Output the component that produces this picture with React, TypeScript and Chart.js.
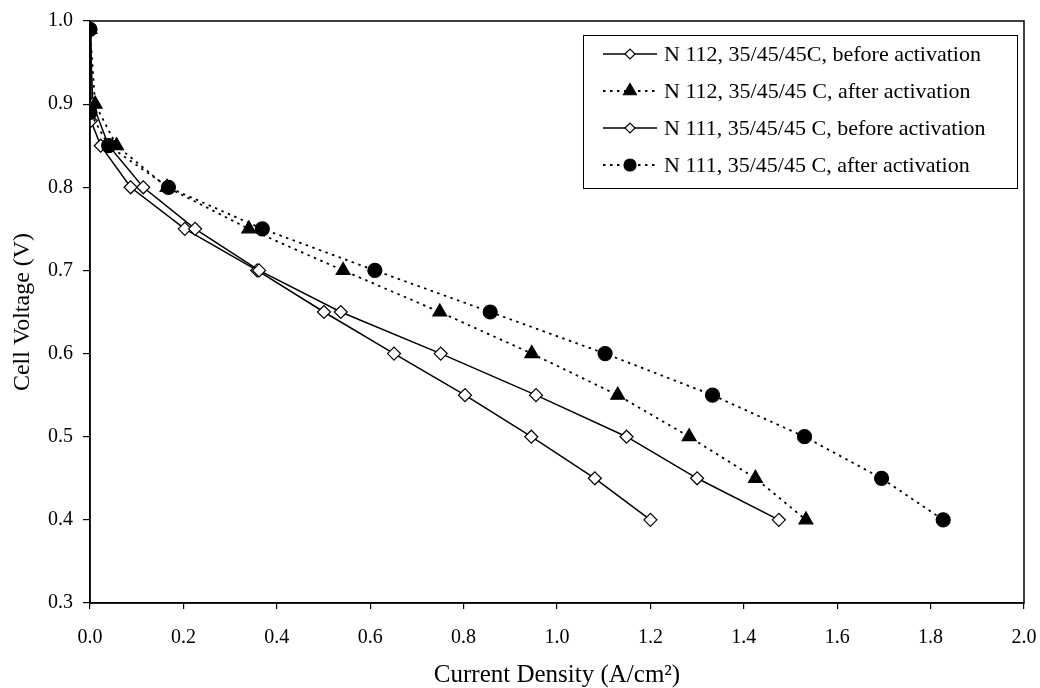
import React, { useEffect, useRef } from "react";
import { Chart, registerables } from "chart.js";

Chart.register(...registerables);

const seriesLabels = [
  "N 112, 35/45/45C, before activation",
  "N 112, 35/45/45 C, after activation",
  "N 111, 35/45/45 C, before activation",
  "N 111, 35/45/45 C, after activation",
];

const n112BeforeX = [0, 0.002, 0.023, 0.087, 0.203, 0.358, 0.501, 0.651, 0.803, 0.945, 1.081, 1.2];
const n112BeforeY = [0.99, 0.88, 0.85, 0.8, 0.75, 0.7, 0.65, 0.6, 0.55, 0.5, 0.45, 0.4];

const n112AfterX = [0, 0.011, 0.057, 0.165, 0.34, 0.542, 0.749, 0.946, 1.13, 1.283, 1.425, 1.533];
const n112AfterY = [0.99, 0.9, 0.85, 0.8, 0.75, 0.7, 0.65, 0.6, 0.55, 0.5, 0.45, 0.4];

const n111BeforeX = [0, 0.006, 0.04, 0.114, 0.225, 0.362, 0.537, 0.751, 0.955, 1.149, 1.3, 1.475];
const n111BeforeY = [0.99, 0.9, 0.85, 0.8, 0.75, 0.7, 0.65, 0.6, 0.55, 0.5, 0.45, 0.4];

const n111AfterX = [0, 0.0, 0.04, 0.168, 0.369, 0.61, 0.857, 1.103, 1.333, 1.53, 1.695, 1.827];
const n111AfterY = [0.99, 0.89, 0.85, 0.8, 0.75, 0.7, 0.65, 0.6, 0.55, 0.5, 0.45, 0.4];

const xTitle = "Current Density (A/cm\u00B2)";
const yTitle = "Cell Voltage (V)";

const FONT = "'Liberation Serif', 'Times New Roman', serif";

function pts(xs: number[], ys: number[]) {
  return xs.map((x, i) => ({ x, y: ys[i] }));
}

function drawMarker(ctx: CanvasRenderingContext2D, style: string, x: number, y: number, r: number, fill: string) {
  ctx.beginPath();
  if (style === "rectRot") {
    ctx.moveTo(x - r, y);
    ctx.lineTo(x, y - r);
    ctx.lineTo(x + r, y);
    ctx.lineTo(x, y + r);
    ctx.closePath();
  } else if (style === "triangle") {
    ctx.moveTo(x, y - r);
    ctx.lineTo(x + r * 0.866, y + r * 0.5);
    ctx.lineTo(x - r * 0.866, y + r * 0.5);
    ctx.closePath();
  } else {
    ctx.arc(x, y, r, 0, Math.PI * 2);
  }
  ctx.fillStyle = fill;
  ctx.fill();
  ctx.strokeStyle = "#000";
  ctx.lineWidth = 1.2;
  ctx.stroke();
}

const boxPlugin = {
  id: "boxPlugin",
  afterDatasetsDraw(chart: any) {
    const { ctx, chartArea } = chart;
    ctx.save();
    ctx.strokeStyle = "#000";
    ctx.lineWidth = 1.5;
    ctx.strokeRect(chartArea.left, chartArea.top, chartArea.right - chartArea.left, chartArea.bottom - chartArea.top);

    const bx = 583, by = 35, bw = 434, bh = 153;
    ctx.fillStyle = "#fff";
    ctx.fillRect(bx, by, bw, bh);
    ctx.lineWidth = 1;
    ctx.strokeRect(bx + 0.5, by + 0.5, bw, bh);
    const rows = [54, 91, 128, 165];
    chart.data.datasets.forEach((ds: any, i: number) => {
      const y = rows[i];
      ctx.save();
      ctx.strokeStyle = "#000";
      ctx.lineWidth = ds.borderWidth;
      ctx.setLineDash(ds.borderDash || []);
      ctx.beginPath();
      ctx.moveTo(603, y);
      ctx.lineTo(657, y);
      ctx.stroke();
      ctx.setLineDash([]);
      const r = ds.pointStyle === "rectRot" ? 5 : ds.pointStyle === "triangle" ? 7.5 : 6;
      drawMarker(ctx, ds.pointStyle, 630, y, r, ds.pointBackgroundColor);
      ctx.restore();
      ctx.fillStyle = "#000";
      ctx.font = `22px ${FONT}`;
      ctx.textBaseline = "middle";
      ctx.textAlign = "left";
      ctx.fillText(ds.label, 664, y + 1);
    });
    ctx.restore();
  },
};

export default function App() {
  const ref = useRef<HTMLCanvasElement | null>(null);
  useEffect(() => {
    if (!ref.current) return;
    const mk = (label: string, data: any[], style: string, dashed: boolean, fill: string, radius: number, order: number) => ({
      label,
      data,
      order,
      showLine: true,
      borderColor: "#000",
      borderWidth: dashed ? 1.8 : 1.5,
      borderDash: dashed ? [2.5, 4.5] : [],
      pointStyle: style,
      pointRadius: radius,
      pointHoverRadius: radius,
      pointBackgroundColor: fill,
      pointBorderColor: "#000",
      pointBorderWidth: 1.2,
      tension: 0,
      fill: false,
    });
    const chart = new Chart(ref.current, {
      type: "scatter",
      data: {
        datasets: [
          mk(seriesLabels[0], pts(n112BeforeX, n112BeforeY), "rectRot", false, "#fff", 6.5, 3),
          mk(seriesLabels[1], pts(n112AfterX, n112AfterY), "triangle", true, "#000", 8, 0),
          mk(seriesLabels[2], pts(n111BeforeX, n111BeforeY), "rectRot", false, "#fff", 6.5, 2),
          mk(seriesLabels[3], pts(n111AfterX, n111AfterY), "circle", true, "#000", 7, 1),
        ],
      },
      options: {
        animation: false,
        responsive: false,
        maintainAspectRatio: false,
        layout: { padding: { top: 21, right: 16, left: 0, bottom: 0 } },
        plugins: {
          legend: { display: false },
          tooltip: { enabled: false },
        },
        scales: {
          x: {
            type: "linear",
            min: 0,
            max: 2,
            ticks: {
              stepSize: 0.2,
              color: "#000",
              padding: 17,
              font: { family: FONT, size: 20 },
              callback: (v: any) => Number(v).toFixed(1),
            },
            grid: { drawOnChartArea: false, drawTicks: true, tickLength: 6, color: "#000", lineWidth: 1.2 },
            border: { display: true, color: "#000", width: 1.5 },
            title: {
              display: true,
              text: xTitle,
              color: "#000",
              font: { family: FONT, size: 25 },
              padding: { top: 0, bottom: -2 },
            },
            afterFit: (s: any) => {
              s.height = 85;
              s.paddingLeft = 0;
              s.paddingRight = 0;
            },
          },
          y: {
            type: "linear",
            min: 0.3,
            max: 1.0,
            ticks: {
              stepSize: 0.1,
              color: "#000",
              padding: 10,
              font: { family: FONT, size: 20 },
              callback: (v: any) => Number(v).toFixed(1),
            },
            grid: { drawOnChartArea: false, drawTicks: true, tickLength: 7, color: "#000", lineWidth: 1.2 },
            border: { display: true, color: "#000", width: 1.5 },
            title: {
              display: true,
              text: yTitle,
              color: "#000",
              font: { family: FONT, size: 24 },
              padding: { top: 8, bottom: 0 },
            },
            afterFit: (s: any) => {
              s.width = 90;
              s.paddingTop = 0;
              s.paddingBottom = 0;
            },
          },
        },
      },
      plugins: [boxPlugin],
    } as any);
    return () => chart.destroy();
  }, []);
  return (
    <div style={{ position: "absolute", left: 0, top: 0, width: 1040, height: 688, background: "#fff" }}>
      <canvas ref={ref} width={1040} height={688} style={{ width: 1040, height: 688, display: "block" }} />
    </div>
  );
}
